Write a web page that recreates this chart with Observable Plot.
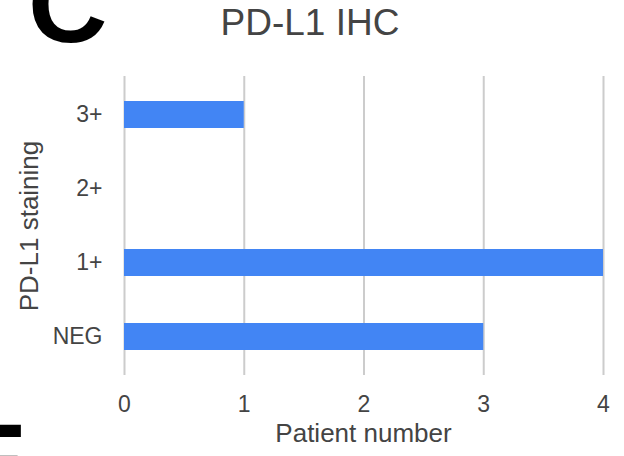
<!DOCTYPE html>
<html>
<head>
<meta charset="utf-8">
<script src="https://cdn.jsdelivr.net/npm/d3@7"></script>
<script src="https://cdn.jsdelivr.net/npm/@observablehq/plot@0.6"></script>
<style>
  html, body { margin: 0; padding: 0; background: #fff; }
  #chart { width: 624px; height: 456px; overflow: hidden; position: relative; }
</style>
</head>
<body>
<div id="chart"></div>
<script>
const categories = ["3+", "2+", "1+", "NEG"];
const patients = [1, 0, 4, 3];
const xTicks = [0, 1, 2, 3, 4];
const title = "PD-L1 IHC";
const xLabel = "Patient number";
const yLabel = "PD-L1 staining";
const panelLetter = "C";
const nextPanelLetter = "E";

const data = categories.map((c, i) => ({category: c, value: patients[i]}));

const W = 624, H = 456;
const mt = 76, mb = 81, ml = 124, mr = 21;
const font = "'Liberation Sans', Arial, Helvetica, sans-serif";

const plot = Plot.plot({
  width: W,
  height: H,
  marginTop: mt,
  marginBottom: mb,
  marginLeft: ml,
  marginRight: mr,
  style: {fontFamily: font, color: "#444", background: "#fff", overflow: "hidden"},
  x: {domain: [0, 4], ticks: xTicks},
  y: {domain: categories, paddingInner: 0.64, paddingOuter: 0.32, align: 0.5},
  marks: [
    Plot.ruleX(xTicks, {stroke: "#cccccc", strokeWidth: 2}),
    Plot.barX(data, {x: "value", y: "category", fill: "#4285f4"}),
    Plot.axisX({ticks: xTicks, tickFormat: d3.format("d"), tickSize: 0, tickPadding: 20, fontSize: 23, fill: "#444", label: null}),
    Plot.axisY({tickSize: 0, tickPadding: 22, fontSize: 23, fill: "#444", label: null})
  ]
});

document.getElementById("chart").appendChild(plot);

const svg = d3.select(plot);
svg.append("text")
  .attr("x", 310).attr("y", 35)
  .attr("text-anchor", "middle")
  .attr("font-family", font).attr("font-size", 37)
  .attr("fill", "#444")
  .text(title);

svg.append("text")
  .attr("x", (ml + (W - mr)) / 2).attr("y", 442)
  .attr("text-anchor", "middle")
  .attr("font-family", font).attr("font-size", 26)
  .attr("fill", "#444")
  .text(xLabel);

svg.append("text")
  .attr("transform", `translate(38,226) rotate(-90)`)
  .attr("text-anchor", "middle")
  .attr("font-family", font).attr("font-size", 26)
  .attr("fill", "#444")
  .text(yLabel);

svg.append("text")
  .attr("x", 28).attr("y", 42)
  .attr("text-anchor", "start")
  .attr("font-family", font).attr("font-size", 110)
  .attr("font-weight", "bold")
  .attr("fill", "#000")
  .text(panelLetter);

svg.append("text")
  .attr("x", -46).attr("y", 500)
  .attr("text-anchor", "start")
  .attr("font-family", font).attr("font-size", 110)
  .attr("font-weight", "bold")
  .attr("fill", "#000")
  .text(nextPanelLetter);
</script>
</body>
</html>
